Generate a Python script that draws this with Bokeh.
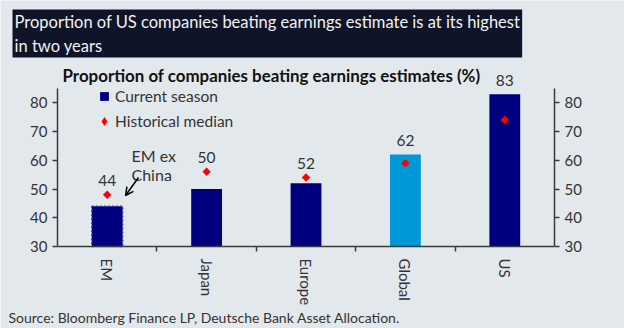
import math
from bokeh.plotting import figure
from bokeh.models import (Range1d, LinearAxis, FixedTicker, LabelSet, Label,
                          Arrow, OpenHead, ColumnDataSource, Legend, LegendItem)
from bokeh.core.properties import value
from bokeh.embed import file_html
from bokeh.resources import INLINE

categories = ["EM", "Japan", "Europe", "Global", "US"]
current_season = [44, 50, 52, 62, 83]
historical_median = [48, 56, 54, 59, 74]
y_ticks = [30, 40, 50, 60, 70, 80]
bar_colors = ["#00007f", "#00007f", "#00007f", "#0098d8", "#00007f"]
bar_outline = ["#3535a8", None, None, None, None]  # EM ex China marked dotted

BG = "#e3e8ed"
TXT = "#333333"
FONT = "Lato"
W, H = 624, 328

# axis geometry (pixels) used to place the value scales on the canvas
FL, FR, FT, FB = 57, 554, 88, 246
Y0, Y1 = 30, 85
XPX = (FR - FL) / len(categories)
YPX = (FB - FT) / (Y1 - Y0)


def dx(px):
    return (px - FL) / XPX


def dy(py):
    return Y0 + (FB - py) / YPX


xs = [i + 0.5 for i in range(len(categories))]
src = ColumnDataSource(dict(
    x=xs, cur=current_season, hist=historical_median, color=bar_colors,
    outline=bar_outline,
    label=[str(v) for v in current_season],
    top=[max(a, b) for a, b in zip(current_season, historical_median)],
))

p = figure(width=W, height=H, x_range=Range1d(dx(0), dx(W)),
           y_range=Range1d(dy(H), dy(0)), output_backend="svg",
           toolbar_location=None, min_border=0, background_fill_color=BG,
           border_fill_color=BG, outline_line_color=None,
           x_axis_type=None, y_axis_type=None)
p.grid.visible = False

p.vbar(x="x", top="cur", bottom=Y0, width=0.31, fill_color="color",
       line_color="outline", line_dash="2 2", line_width=1.5, source=src)
p.scatter(x="x", y="hist", marker="square", angle=math.pi / 4, size=6,
          fill_color="#ff0000", line_color=None, source=src)
leg_cur = p.scatter(x=[float("nan")], y=[float("nan")], marker="square",
                    fill_color="#00007f", line_color=None)
leg_med = p.scatter(x=[float("nan")], y=[float("nan")], marker="diamond",
                    fill_color="#ff0000", line_color=None)

# axes
for loc, fx in (("left", 0), ("right", len(categories))):
    ax = LinearAxis(ticker=FixedTicker(ticks=y_ticks), fixed_location=fx,
                    bounds=(Y0, Y1))
    ax.axis_line_color = "#3a3a3a"
    ax.axis_line_width = 1.5
    ax.major_tick_line_color = "#3a3a3a"
    ax.major_tick_line_width = 1.5
    ax.major_tick_in = 0
    ax.major_tick_out = 5
    ax.minor_tick_line_color = None
    ax.major_label_text_font = FONT
    ax.major_label_text_font_size = "15px"
    ax.major_label_text_color = TXT
    ax.major_label_standoff = 5
    p.add_layout(ax, loc)

xax = LinearAxis(ticker=FixedTicker(ticks=xs, minor_ticks=list(range(1, len(categories)))),
                 fixed_location=Y0, bounds=(0, len(categories)))
xax.major_label_overrides = {x: c for x, c in zip(xs, categories)}
xax.axis_line_color = "#3a3a3a"
xax.axis_line_width = 1.5
xax.major_tick_line_color = None
xax.major_tick_in = 0
xax.major_tick_out = 0
xax.minor_tick_line_color = "#3a3a3a"
xax.minor_tick_line_width = 1.5
xax.minor_tick_in = 0
xax.minor_tick_out = 5
xax.major_label_orientation = "vertical"
xax.major_label_standoff = 7
xax.major_label_text_font = FONT
xax.major_label_text_font_size = "15px"
xax.major_label_text_color = TXT
p.add_layout(xax, "below")

# value labels
p.add_layout(LabelSet(x="x", y="top", text="label", source=src, y_offset=14,
                      text_align="center", text_baseline="middle",
                      text_font=value(FONT), text_font_size=value("15.5px"),
                      text_color=TXT))

# legend
legend = Legend(items=[LegendItem(label="Current season", renderers=[leg_cur]),
                       LegendItem(label="Historical median", renderers=[leg_med])],
                location=(93, 196), padding=0, margin=0, spacing=3,
                glyph_width=22, glyph_height=22, label_height=22,
                label_standoff=-1, label_text_font=FONT,
                label_text_font_size="15.5px", label_text_color=TXT,
                background_fill_alpha=0, border_line_color=None)
p.add_layout(legend)

# annotation
p.add_layout(Label(x=dx(131), y=dy(145), text="EM ex\nChina", text_align="left",
                   text_baseline="top", text_font=FONT, text_font_size="16px",
                   text_color=TXT, text_line_height=1.05))
p.add_layout(Arrow(x_start=dx(138), y_start=dy(177), x_end=dx(125), y_end=dy(195),
                   line_color="black", line_width=1.5,
                   end=OpenHead(size=8, line_color="black", line_width=1.5)))

# subtitle
p.add_layout(Label(x=dx(62), y=dy(75),
                   text="Proportion of companies beating earnings estimates (%)",
                   text_align="left", text_baseline="middle", text_font=FONT,
                   text_font_size="16.9px", text_font_style="bold",
                   text_color="#111111"))

# title box
p.add_layout(Label(x=dx(12), y=dy(9),
                   text="Proportion of US companies beating earnings estimate is at its highest\nin two years",
                   text_align="left", text_baseline="top",
                   text_font=FONT, text_font_size="16.5px",
                   text_color="#f2f2f2", text_line_height=1.2,
                   background_fill_color="#0f1428", padding=2))

# source
p.add_layout(Label(x=dx(8), y=dy(317),
                   text="Source: Bloomberg Finance LP, Deutsche Bank Asset Allocation.",
                   text_align="left", text_baseline="middle", text_font=FONT,
                   text_font_size="14px", text_color=TXT))

open("out.html", "w").write(file_html(p, INLINE))
